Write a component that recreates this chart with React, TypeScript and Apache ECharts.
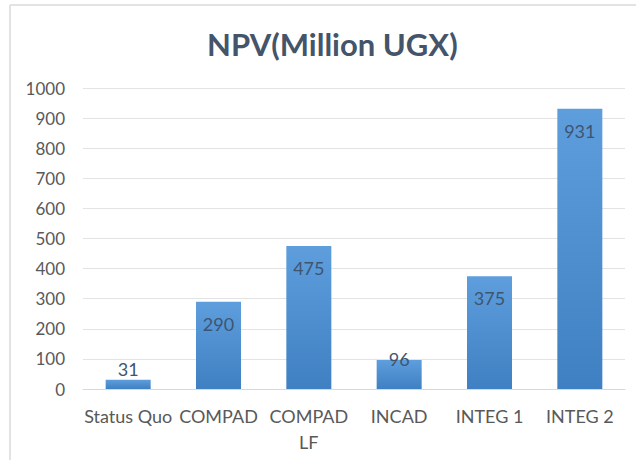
import React, { useEffect, useRef } from "react";
import * as echarts from "echarts";

const categories = ["Status Quo", "COMPAD", "COMPAD\nLF", "INCAD", "INTEG 1", "INTEG 2"];
const values = [31, 290, 475, 96, 375, 931];
const labelPositions = ["top", "insideTop", "insideTop", "insideTop", "insideTop", "insideTop"];
const titleText = "NPV(Million UGX)";

export default function App() {
  const ref = useRef<HTMLDivElement>(null);
  useEffect(() => {
    const chart = echarts.init(ref.current!, null, { renderer: "svg" });
    const font = "Lato, 'Open Sans', sans-serif";
    chart.setOption({
      animation: false,
      backgroundColor: "#ffffff",
      title: {
        text: titleText,
        left: 202,
        top: 23,
        textStyle: { fontFamily: font, fontSize: 31, fontWeight: "bold", color: "#44546A" },
      },
      graphic: [
        { type: "line", shape: { x1: 10, y1: 5, x2: 636, y2: 5 }, style: { stroke: "#DADADA", lineWidth: 1.5 } },
        { type: "line", shape: { x1: 10, y1: 5, x2: 10, y2: 460 }, style: { stroke: "#DADADA", lineWidth: 1.5 } },
      ],
      grid: { left: 83, right: 11, top: 88, bottom: 71, containLabel: false },
      xAxis: {
        type: "category",
        data: categories,
        axisLine: { lineStyle: { color: "#D9D9D9", width: 1 } },
        axisTick: { show: false },
        axisLabel: { fontFamily: font, fontSize: 18, color: "#595959", margin: 14, lineHeight: 26, interval: 0 },
      },
      yAxis: {
        type: "value",
        min: 0,
        max: 1000,
        interval: 100,
        axisLine: { show: false },
        axisTick: { show: false },
        splitLine: { lineStyle: { color: "#E3E3E3", width: 1 } },
        axisLabel: { fontFamily: font, fontSize: 17, color: "#595959", margin: 18, formatter: (v: number) => String(v) },
      },
      series: [
        {
          type: "bar",
          barWidth: 45,
          data: values.map((v, i) => ({
            value: v,
            label: {
              position: labelPositions[i],
              distance: i === 3 ? -10 : i === 0 ? 2 : 13,
            },
          })),
          itemStyle: {
            color: new echarts.graphic.LinearGradient(0, 0, 0, 1, [
              { offset: 0, color: "#5E9EDD" },
              { offset: 1, color: "#3F80C2" },
            ]),
          },
          label: {
            show: true,
            fontFamily: font,
            fontSize: 18,
            color: "#3E5570",
          },
        },
      ],
    });
    return () => chart.dispose();
  }, []);
  return <div ref={ref} style={{ position: "fixed", left: 0, top: 0, width: 636, height: 460 }} />;
}
